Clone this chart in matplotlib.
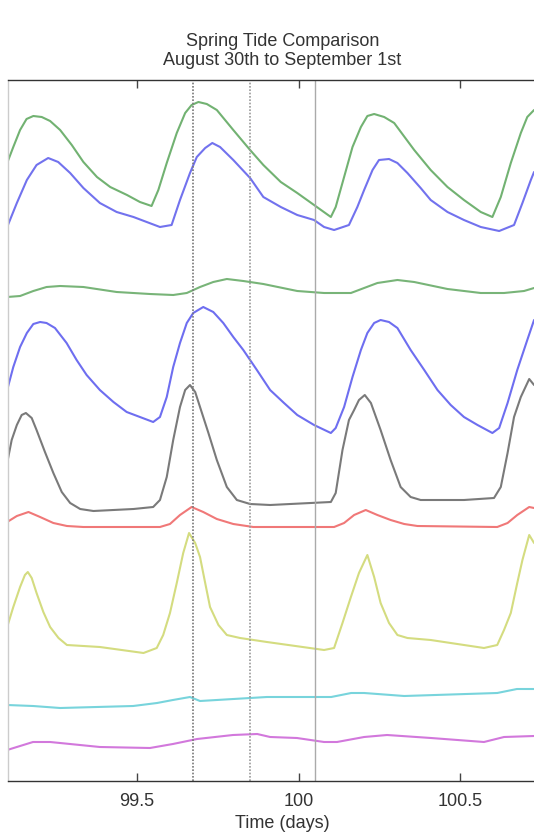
import matplotlib
matplotlib.use("Agg")
import matplotlib.pyplot as plt

# ---- data (time in days, trace level in arbitrary offset units) ----
g1_t = [99.098, 99.117, 99.138, 99.158, 99.179, 99.205, 99.231, 99.262, 99.298, 99.334, 99.376, 99.417, 99.469,
        99.509, 99.545, 99.566, 99.592, 99.623, 99.649, 99.669, 99.690, 99.716, 99.747, 99.798, 99.850, 99.891,
        99.945, 99.996, 100.048, 100.100, 100.115, 100.141, 100.167, 100.193, 100.213, 100.234, 100.265, 100.296,
        100.358, 100.409, 100.461, 100.512, 100.564, 100.600, 100.626, 100.657, 100.688, 100.708, 100.729]
g1_v = [618, 634, 651, 662, 665, 664, 660, 651, 636, 619, 604, 594, 586,
        579, 575, 591, 618, 648, 668, 676, 679, 677, 671, 651, 631, 616,
        599, 588, 576, 564, 574, 604, 634, 654, 665, 667, 664, 658,
        631, 611, 594, 581, 569, 564, 584, 618, 648, 664, 671]

b1_t = [99.098, 99.128, 99.159, 99.189, 99.225, 99.256, 99.293, 99.334, 99.385, 99.437, 99.489, 99.530, 99.571,
        99.607, 99.633, 99.664, 99.685, 99.711, 99.733, 99.757, 99.798, 99.850, 99.891, 99.945, 99.996, 100.048,
        100.079, 100.110, 100.156, 100.182, 100.203, 100.229, 100.249, 100.280, 100.306, 100.337, 100.378, 100.409,
        100.461, 100.512, 100.564, 100.621, 100.667, 100.693, 100.719, 100.729]
b1_v = [554, 578, 601, 616, 623, 619, 608, 593, 578, 569, 564, 559, 554,
        556, 581, 608, 624, 633, 638, 634, 621, 603, 584, 574, 566, 561,
        554, 551, 556, 574, 591, 611, 621, 622, 618, 608, 593, 581,
        569, 561, 554, 550, 556, 578, 601, 609]

g2_t = [99.098, 99.138, 99.179, 99.220, 99.262, 99.334, 99.437, 99.540, 99.612, 99.654, 99.695, 99.736, 99.778,
        99.829, 99.891, 99.996, 100.079, 100.162, 100.203, 100.244, 100.306, 100.358, 100.461, 100.564, 100.636,
        100.698, 100.729]
g2_v = [484, 485, 490, 494, 495, 494, 489, 487, 486, 488, 494, 499, 502,
        500, 497, 490, 488, 488, 493, 498, 501, 499, 492, 488, 488,
        490, 493]

b2_t = [99.098, 99.117, 99.138, 99.159, 99.179, 99.200, 99.220, 99.246, 99.282, 99.313, 99.344, 99.385, 99.427,
        99.468, 99.509, 99.550, 99.571, 99.592, 99.612, 99.633, 99.654, 99.674, 99.705, 99.736, 99.767, 99.798,
        99.829, 99.871, 99.912, 99.955, 99.996, 100.048, 100.100, 100.115, 100.141, 100.167, 100.193, 100.213,
        100.234, 100.254, 100.280, 100.306, 100.347, 100.389, 100.430, 100.471, 100.512, 100.554, 100.600, 100.621,
        100.647, 100.677, 100.708, 100.729]
b2_v = [391, 414, 434, 448, 457, 459, 458, 453, 438, 421, 406, 391, 379,
        369, 364, 359, 364, 384, 414, 438, 458, 468, 474, 469, 458, 444,
        431, 411, 391, 378, 366, 356, 348, 353, 374, 404, 431, 448,
        458, 461, 459, 453, 431, 411, 391, 376, 364, 356, 348, 353,
        378, 411, 441, 461]

k_t = [99.098, 99.112, 99.128, 99.143, 99.156, 99.174, 99.189, 99.215, 99.241, 99.267, 99.293, 99.324, 99.365,
       99.489, 99.550, 99.571, 99.592, 99.612, 99.633, 99.649, 99.664, 99.680, 99.695, 99.721, 99.747, 99.778,
       99.809, 99.850, 99.912, 100.100, 100.115, 100.136, 100.156, 100.172, 100.187, 100.205, 100.224, 100.254,
       100.285, 100.316, 100.347, 100.378, 100.512, 100.605, 100.626, 100.647, 100.667, 100.688, 100.714, 100.729]
k_v = [318, 341, 356, 366, 368, 363, 351, 329, 308, 289, 278, 272, 270,
       272, 274, 281, 304, 341, 374, 391, 396, 389, 374, 348, 321, 294,
       281, 277, 276, 279, 288, 331, 361, 371, 381, 386, 378, 351,
       321, 294, 284, 281, 281, 283, 294, 328, 364, 384, 402, 396]

r_t = [99.098, 99.128, 99.164, 99.200, 99.241, 99.283, 99.334, 99.571, 99.602, 99.633, 99.669, 99.705, 99.747,
       99.798, 99.860, 99.912, 100.110, 100.141, 100.172, 100.208, 100.244, 100.285, 100.327, 100.368, 100.615,
       100.647, 100.677, 100.714, 100.729]
r_v = [259, 265, 269, 264, 258, 255, 254, 254, 257, 266, 274, 269, 262,
       257, 254, 254, 254, 258, 266, 271, 266, 261, 257, 255, 254,
       258, 266, 274, 273]

y_t = [99.098, 99.117, 99.138, 99.153, 99.162, 99.174, 99.189, 99.210, 99.231, 99.257, 99.283, 99.385, 99.520,
       99.561, 99.581, 99.602, 99.623, 99.643, 99.661, 99.680, 99.695, 99.711, 99.726, 99.752, 99.778, 99.819,
       99.902, 100.079, 100.110, 100.136, 100.162, 100.187, 100.213, 100.234, 100.254, 100.280, 100.306, 100.337,
       100.409, 100.574, 100.615, 100.636, 100.657, 100.677, 100.693, 100.714, 100.729]
y_v = [154, 174, 194, 206, 209, 203, 188, 169, 154, 143, 136, 134, 128,
       133, 146, 168, 198, 228, 248, 238, 224, 198, 174, 156, 146, 143,
       139, 131, 133, 158, 184, 208, 226, 204, 178, 158, 146, 143,
       141, 133, 136, 151, 168, 198, 221, 246, 238]

c_t = [99.098, 99.178, 99.262, 99.488, 99.562, 99.611, 99.664, 99.695, 99.902, 100.101, 100.163, 100.203, 100.327,
       100.615, 100.676, 100.729]
c_v = [76, 75, 73, 75, 78, 81, 84, 80, 84, 84, 88, 88, 85, 88, 92, 92]

m_t = [99.098, 99.178, 99.231, 99.385, 99.540, 99.611, 99.686, 99.797, 99.872, 99.912, 99.995, 100.079, 100.119,
       100.203, 100.274, 100.410, 100.574, 100.636, 100.729]
m_v = [31, 39, 39, 34, 33, 37, 42, 46, 47, 44, 43, 39, 39, 44, 46, 43, 39, 44, 45]

event_times = [99.673, 99.85, 100.051]
xticks = [99.5, 100, 100.5]
xtick_labels = ["99.5", "100", "100.5"]
title = "Spring Tide Comparison\nAugust 30th to September 1st"
xlabel = "Time (days)"

# ---- figure ----
plt.rcParams["font.family"] = ["Liberation Sans", "DejaVu Sans"]
W, H = 534, 839
fig = plt.figure(figsize=(W / 100, H / 100), dpi=100)
left_px, right_px, top_px, bot_px = 7.8, 557, 80, 781
ax = fig.add_axes([left_px / W, (H - bot_px) / H, (right_px - left_px) / W, (bot_px - top_px) / H])

series = [
    (g1_t, g1_v, "#72b272"),
    (b1_t, b1_v, "#7272ee"),
    (g2_t, g2_v, "#78b478"),
    (b2_t, b2_v, "#6e6ef0"),
    (k_t, k_v, "#7a7a7a"),
    (r_t, r_v, "#f07878"),
    (y_t, y_v, "#d4dc80"),
    (c_t, c_v, "#78d4dc"),
    (m_t, m_v, "#d278dc"),
]
for t, v, col in series:
    ax.plot(t, v, color=col, lw=1.5, solid_joinstyle="round", solid_capstyle="round")

ax.axvline(event_times[0], color="#777777", lw=1.2, ls=(0, (1, 1)))
ax.axvline(event_times[1], color="#999999", lw=1.2, ls=(0, (1, 1)))
ax.axvline(event_times[2], color="#aaaaaa", lw=1.0, ls="-")

ax.set_xlim(99.1, 100.8)
ax.set_ylim(0, 701)
ax.set_yticks([])
ax.set_xticks(xticks)
ax.set_xticklabels(xtick_labels)
ax.tick_params(axis="x", direction="in", length=6, width=1, color="#444444",
               top=True, bottom=True, labelsize=13, pad=9, labelcolor="#333333")
for s in ["top", "bottom"]:
    ax.spines[s].set_color("#333333")
    ax.spines[s].set_linewidth(1.0)
ax.spines["left"].set_color("#cccccc")
ax.spines["left"].set_linewidth(1.0)
ax.spines["right"].set_visible(False)

ax.set_title(title, fontsize=13, color="#333333", pad=11, linespacing=1.15)
ax.set_xlabel(xlabel, fontsize=13, color="#333333", labelpad=3)

fig.savefig("out.png", dpi=100)
